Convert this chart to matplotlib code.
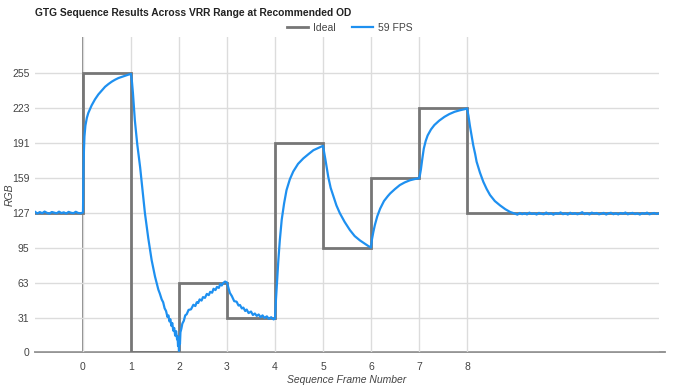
import matplotlib
matplotlib.use("Agg")
import matplotlib.pyplot as plt
from matplotlib.lines import Line2D

plt.rcParams['font.family'] = ['Liberation Sans', 'DejaVu Sans']

title = "GTG Sequence Results Across VRR Range at Recommended OD"
x_title = "Sequence Frame Number"
y_title = "RGB"
series_names = ["Ideal", "59 FPS"]
x_ticks = [0, 1, 2, 3, 4, 5, 6, 7, 8]
y_ticks = [0, 31, 63, 95, 127, 159, 191, 223, 255]

# Ideal (step) series: level held from each frame to the next
ideal_frame = [-1, 0, 1, 2, 3, 4, 5, 6, 7, 8, 12]
ideal_rgb = [127, 255, 0, 63, 31, 191, 95, 159, 223, 127, 127]

fps_frame = [
    -1.00, -0.95, -0.90, -0.85, -0.80, -0.75, -0.70, -0.65, -0.60, -0.55,
    -0.50, -0.45, -0.40, -0.35, -0.30, -0.25, -0.20, -0.15, -0.10, -0.05,
    0.00, 0.005, 0.01, 0.02, 0.03, 0.05, 0.08, 0.11, 0.18, 0.25,
    0.32, 0.39, 0.46, 0.53, 0.60, 0.67, 0.74, 0.81, 0.88, 0.94,
    1.00, 1.02, 1.04, 1.06, 1.08, 1.13, 1.19, 1.24, 1.29, 1.36,
    1.43, 1.50, 1.57, 1.60, 1.64, 1.67, 1.70, 1.73, 1.76, 1.78,
    1.80, 1.82, 1.84, 1.86, 1.88, 1.90, 1.92, 1.94, 1.96, 1.97,
    1.98, 1.99, 2.00, 2.01, 2.02, 2.03, 2.05, 2.07, 2.10, 2.13,
    2.16, 2.20, 2.25, 2.30, 2.34, 2.37, 2.40, 2.43, 2.47, 2.50,
    2.54, 2.58, 2.62, 2.65, 2.69, 2.72, 2.76, 2.79, 2.83, 2.86,
    2.89, 2.92, 2.96, 3.00, 3.03, 3.06, 3.10, 3.15, 3.20, 3.24,
    3.27, 3.31, 3.34, 3.38, 3.41, 3.45, 3.50, 3.54, 3.58, 3.62,
    3.66, 3.70, 3.74, 3.78, 3.83, 3.87, 3.92, 3.97, 4.00, 4.02,
    4.04, 4.07, 4.10, 4.14, 4.19, 4.24, 4.31, 4.38, 4.48, 4.59,
    4.70, 4.80, 4.90, 4.97, 5.00, 5.05, 5.11, 5.16, 5.22, 5.28,
    5.35, 5.45, 5.56, 5.66, 5.77, 5.87, 5.94, 6.00, 6.02, 6.05,
    6.08, 6.13, 6.19, 6.27, 6.35, 6.40, 6.50, 6.60, 6.70, 6.81,
    6.90, 6.99, 7.00, 7.02, 7.04, 7.07, 7.10, 7.14, 7.18, 7.25,
    7.32, 7.42, 7.53, 7.63, 7.74, 7.85, 7.95, 8.00, 8.03, 8.06,
    8.10, 8.13, 8.17, 8.20, 8.27, 8.34, 8.41, 8.48, 8.58, 8.69,
    8.80, 8.90, 9.00, 9.05, 9.10, 9.15, 9.20, 9.25, 9.30, 9.35,
    9.40, 9.45, 9.50, 9.55, 9.60, 9.65, 9.70, 9.75, 9.80, 9.85,
    9.90, 9.95, 10.00, 10.05, 10.10, 10.15, 10.20, 10.25, 10.30, 10.35,
    10.40, 10.45, 10.50, 10.55, 10.60, 10.65, 10.70, 10.75, 10.80, 10.85,
    10.90, 10.95, 11.00, 11.05, 11.10, 11.15, 11.20, 11.25, 11.30, 11.35,
    11.40, 11.45, 11.50, 11.55, 11.60, 11.65, 11.70, 11.75, 11.80, 11.85,
    11.90, 11.95, 12.00,
]
fps_rgb = [
    128.2, 126.6, 127.9, 126.9, 128.4, 127.2, 126.5, 128.0, 127.4, 126.8,
    128.3, 127.0, 127.7, 126.6, 128.1, 127.3, 126.9, 128.2, 127.1, 126.8,
    127.6, 150.0, 168.0, 185.0, 197.0, 207.0, 214.0, 218.5, 225.5, 231.0,
    235.5, 239.0, 242.5, 245.0, 247.2, 249.0, 250.5, 251.6, 252.6, 253.5,
    254.2, 247.0, 237.0, 225.0, 212.0, 190.0, 169.0, 148.0, 127.0, 104.0,
    84.0, 69.0, 57.0, 53.5, 48.0, 45.5, 40.0, 37.5, 32.0, 33.5,
    28.0, 30.0, 24.0, 26.5, 19.5, 22.0, 15.0, 19.0, 11.5, 14.5,
    5.5, 9.0, 1.0, 12.0, 7.5, 18.0, 21.5, 26.0, 28.5, 33.5,
    34.5, 38.5, 39.0, 43.2, 42.0, 45.5, 44.8, 48.1, 47.0, 50.2,
    49.5, 53.1, 52.0, 55.0, 54.2, 57.8, 56.6, 59.5, 58.6, 62.2,
    60.8, 63.0, 64.4, 63.5, 58.5, 54.0, 51.2, 46.5, 46.0, 42.5,
    43.0, 39.8, 40.6, 37.5, 38.8, 35.6, 37.0, 33.8, 35.2, 33.0,
    34.3, 31.8, 33.5, 31.2, 32.6, 30.4, 31.8, 29.8, 30.5, 48.0,
    62.0, 84.0, 102.0, 121.0, 136.0, 148.0, 158.0, 165.0, 172.0, 177.0,
    181.0, 184.5, 186.5, 188.0, 188.5, 176.0, 160.0, 150.0, 142.0, 134.0,
    127.0, 119.0, 111.5, 106.0, 102.0, 99.0, 97.0, 95.5, 103.0, 110.0,
    116.0, 124.0, 131.0, 138.0, 142.5, 145.0, 149.0, 152.6, 155.0, 157.0,
    158.0, 158.8, 159.0, 162.0, 167.0, 177.0, 186.0, 193.0, 198.0, 203.5,
    207.5, 211.5, 215.0, 217.5, 219.6, 221.0, 222.0, 222.7, 216.0, 207.0,
    197.0, 189.0, 181.0, 174.0, 164.0, 155.6, 149.0, 143.5, 138.0, 134.0,
    130.5, 128.0, 126.5, 125.6, 127.1, 126.0, 126.9, 125.8, 127.4, 126.2,
    126.8, 125.7, 127.2, 126.4, 125.9, 127.5, 126.1, 126.9, 125.6, 127.0,
    126.3, 127.6, 126.0, 126.8, 125.7, 127.3, 126.2, 127.0, 125.9, 126.7,
    127.8, 126.1, 126.9, 125.8, 127.4, 126.5, 127.1, 125.9, 126.6, 127.2,
    125.7, 126.8, 127.3, 126.0, 126.9, 125.8, 127.1, 126.4, 127.5, 125.9,
    126.7, 127.2, 126.1, 126.8, 125.7, 127.0, 126.3, 127.4, 125.9, 126.6,
    127.1, 126.2, 126.8,
]

IDEAL_COLOR = "#767676"
FPS_COLOR = "#1e90f0"
GRID_COLOR = "#dcdcdc"
TEXT_COLOR = "#444444"

fig = plt.figure(figsize=(6.75, 3.9), dpi=100)
W, H = 675.0, 390.0
left, right, top, bottom = 35, 659, 37, 352
ax = fig.add_axes([left / W, 1 - bottom / H, (right - left) / W, (bottom - top) / H])

ax.set_xlim(-1, 12)
ax.set_ylim(0, 288)

for s in ax.spines.values():
    s.set_visible(False)

ax.set_xticks(x_ticks)
ax.set_yticks(y_ticks)
ax.grid(True, color=GRID_COLOR, lw=1.0, zorder=0)
ax.tick_params(length=0, labelsize=7.5, labelcolor=TEXT_COLOR)
ax.tick_params(axis='x', pad=7)
ax.tick_params(axis='y', pad=4)

# baselines
ax.axvline(0, color="#7a7a7a", lw=1.3, zorder=1)
ax.axhline(0, color="#8a8a8a", lw=1.3, zorder=1, xmax=1.01, clip_on=False)

ax.plot(ideal_frame, ideal_rgb, drawstyle="steps-post", color=IDEAL_COLOR,
        lw=2.0, zorder=2, solid_joinstyle="miter")
ax.plot(fps_frame, fps_rgb, color=FPS_COLOR, lw=1.6, zorder=3)

fig.text(left / W, 1 - 13 / H, title, fontsize=7.4, fontweight="bold",
         color="#222222", ha="left", va="center")
fig.text(347 / W, 1 - 380 / H, x_title, fontsize=7.5, style="italic",
         color=TEXT_COLOR, ha="center", va="center")
fig.text(10 / W, 1 - 195 / H, y_title, fontsize=7.5, style="italic",
         color=TEXT_COLOR, rotation=90, ha="center", va="center")

handles = [Line2D([], [], color=IDEAL_COLOR, lw=2.0),
           Line2D([], [], color=FPS_COLOR, lw=1.6)]
fig.legend(handles, series_names, loc="center", ncol=2,
           bbox_to_anchor=(350 / W, 1 - 28 / H), frameon=False,
           fontsize=7.5, handlelength=2.0, handletextpad=0.5,
           columnspacing=1.6, labelcolor=TEXT_COLOR)

fig.savefig("out.png", dpi=100)
